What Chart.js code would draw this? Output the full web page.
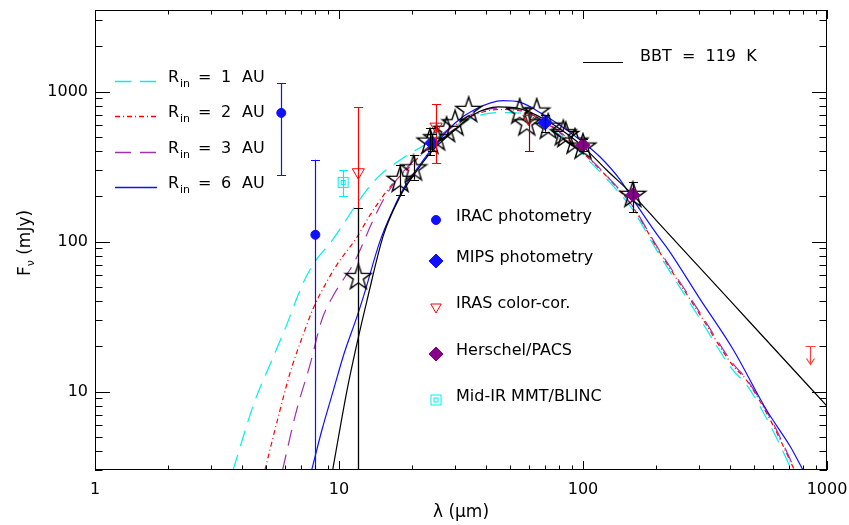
<!DOCTYPE html>
<html>
<head>
<meta charset="utf-8">
<script src="https://cdn.jsdelivr.net/npm/chart.js@4.4.1/dist/chart.umd.min.js"></script>
<style>
  html, body { margin: 0; padding: 0; background: #fff; }
</style>
</head>
<body>
<canvas id="sedChart" width="849" height="525"></canvas>
<script>
// --- Axis ticks ---
const X_TICKS = [1, 10, 100, 1000];
const Y_TICKS = [10, 100, 1000];

// --- Model SEDs (lambda in micron, flux in mJy) ---
const rin1Lam  = [3.68, 4.5, 5.2, 6.0, 7.1, 7.9, 9.3, 10.4, 12, 14.3, 17.8, 24, 30, 36, 45, 55, 70, 85, 100, 125, 160, 200, 300, 410, 470, 600, 716];
const rin1Flux = [3, 8.5, 15, 26, 52, 72, 100, 130, 185, 265, 350, 470, 590, 680, 725, 720, 600, 480, 378, 262, 163, 88, 31, 14, 11, 5.5, 3];

const rin2Lam  = [4.97, 5.6, 6.3, 7.2, 7.85, 8.8, 9.8, 10.5, 11.8, 13.4, 16.2, 19.5, 24, 30, 36, 45, 55, 70, 85, 100, 125, 160, 200, 300, 410, 470, 600, 735];
const rin2Flux = [3, 6.5, 13.3, 25, 36, 52, 70, 82, 106, 150, 232, 316, 450, 600, 700, 760, 745, 620, 495, 390, 272, 170, 92, 33, 15, 11.8, 6, 3];

const rin3Lam  = [5.87, 6.7, 7.6, 8.5, 9.5, 10.5, 11.4, 12.5, 13.6, 15.2, 17.2, 20, 24, 30, 36, 45, 55, 70, 85, 100, 125, 160, 200, 300, 410, 470, 600, 740];
const rin3Flux = [3, 7.5, 15, 30, 44, 57, 70, 96, 132, 190, 258, 340, 450, 610, 720, 775, 755, 630, 500, 395, 275, 172, 94, 34, 15.5, 12, 6.2, 3];

const rin6Lam  = [7.73, 8.5, 9.5, 10.5, 11.85, 12.7, 14.7, 16.7, 18.5, 21, 24.4, 30, 36, 47, 55, 69, 85, 100, 117, 142, 160, 200, 224, 300, 413, 566, 707, 797];
const rin6Flux = [3, 5.5, 10.3, 18, 31.6, 45, 100, 165, 230, 310, 430, 620, 760, 870, 850, 700, 560, 460, 369, 258, 192, 113, 88, 42, 19, 7.5, 4.3, 3];

const bbLam  = [9.42, 10.8, 12.2, 13, 15.2, 17.8, 20, 24, 30, 35.5, 45, 55, 70, 85, 100, 125, 160, 200, 250, 400, 566, 1000];
const bbFlux = [3, 10.3, 25.8, 40, 110, 200, 270, 400, 560, 700, 790, 770, 650, 530, 430, 300, 205, 138, 93, 40.5, 21.9, 8];

// --- Photometry ---
const iracLam  = [5.8, 8.0];
const iracFlux = [721, 111];
const iracLo   = [278, 1];
const iracHi   = [1143, 351];

const mipsLam  = [24, 70];
const mipsFlux = [455, 618];
const mipsLo   = [400, 540];
const mipsHi   = [520, 700];

const irasLam  = [12, 25, 60];
const irasFlux = [290, 584, 658];
const irasLo   = [1, 333, 400];
const irasHi   = [790, 827, 794];

const pacsLam  = [100, 160];
const pacsFlux = [441, 205];
const pacsLo   = [400, 157];
const pacsHi   = [480, 249];

const mmtLam  = [10.4];
const mmtFlux = [248];
const mmtLo   = [200];
const mmtHi   = [300];

// open stars (spectrum / synthetic photometry)
const starLam  = [12, 17.8, 20.2, 23.6, 25.1, 27.6, 29.9, 34, 55, 58.8, 64.6, 72, 83, 85, 92.7, 100, 160];
const starFlux = [58, 258, 308, 464, 489, 556, 615, 755, 736, 615, 736, 584, 528, 514, 464, 430, 205];
const starErrLam = [12, 17.8, 20.2, 23.6];
const starErrLo  = [1, 205, 258, 378];
const starErrHi  = [168, 325, 378, 570];

// upper limit
const limitLam  = [850];
const limitFlux = [20];

// --- Colours ---
const CYAN = '#00eeee';
const RED = '#ff0000';
const PURPLE = '#a030b0';
const BLUE = '#1010ff';
const PACS_PURPLE = '#880088';
const FONT = 'DejaVu Sans';
const MODEL_WIDTH = 1.2;

const pts = (lam, flux) => lam.map((l, i) => ({ x: l, y: flux[i] }));

// --- Custom point images ---
function makeStar() {
    const c = document.createElement('canvas');
    c.width = 30; c.height = 30;
    const g = c.getContext('2d');
    g.strokeStyle = '#000'; g.lineWidth = 1.4;
    g.lineJoin = 'miter';
    g.beginPath();
    for (let k = 0; k < 10; k++) {
        const a = -Math.PI / 2 + k * Math.PI / 5;
        const r = k % 2 === 0 ? 13.5 : 5.3;
        const px = 15 + r * Math.cos(a), py = 15.5 + r * Math.sin(a);
        if (k === 0) g.moveTo(px, py); else g.lineTo(px, py);
    }
    g.closePath();
    g.stroke();
    return c;
}
function makeDoubleSquare() {
    const c = document.createElement('canvas');
    c.width = 13; c.height = 13;
    const g = c.getContext('2d');
    g.strokeStyle = CYAN; g.lineWidth = 1;
    g.strokeRect(1.5, 1.5, 10, 10);
    g.strokeRect(4.5, 4.5, 4, 4);
    return c;
}
const STAR_IMG = makeStar();
const SQUARE_IMG = makeDoubleSquare();

// --- Plugins ---
const insideTicks = {
    id: 'insideTicks',
    afterDraw(chart) {
        const { ctx, chartArea: a, scales: { x, y } } = chart;
        ctx.save();
        ctx.strokeStyle = '#000';
        ctx.lineWidth = 1;
        ctx.strokeRect(a.left + 0.5, a.top + 0.5, a.right - a.left - 1, a.bottom - a.top - 1);
        ctx.beginPath();
        for (let d = 1; d <= 1000; d *= 10) {
            for (let m = 1; m <= 9; m++) {
                const v = m * d;
                if (v > 1000) break;
                const len = m === 1 ? 9 : 4.5;
                const px = Math.round(x.getPixelForValue(v)) + 0.5;
                ctx.moveTo(px, a.bottom); ctx.lineTo(px, a.bottom - len);
                ctx.moveTo(px, a.top); ctx.lineTo(px, a.top + len);
            }
        }
        for (let d = 1; d <= 1000; d *= 10) {
            for (let m = 1; m <= 9; m++) {
                const v = m * d;
                if (v < 3 || v > 3500) continue;
                const len = m === 1 ? 15 : 7.5;
                const py = Math.round(y.getPixelForValue(v)) + 0.5;
                ctx.moveTo(a.left, py); ctx.lineTo(a.left + len, py);
                ctx.moveTo(a.right, py); ctx.lineTo(a.right - len, py);
            }
        }
        ctx.stroke();
        ctx.restore();
    }
};

function drawBars(chart, lam, lo, hi, colors) {
    const { ctx, chartArea: a, scales: { x, y } } = chart;
    lam.forEach((l, i) => {
        const px = Math.round(x.getPixelForValue(l)) + 0.5;
        const yLo = y.getPixelForValue(lo[i]);
        const yHi = y.getPixelForValue(hi[i]);
        ctx.strokeStyle = Array.isArray(colors) ? colors[i] : colors;
        ctx.beginPath();
        ctx.moveTo(px, Math.min(yLo, a.bottom));
        ctx.lineTo(px, Math.max(yHi, a.top));
        [yLo, yHi].forEach(yy => {
            if (yy >= a.top && yy <= a.bottom) {
                const r = Math.round(yy) + 0.5;
                ctx.moveTo(px - 4.5, r); ctx.lineTo(px + 4.5, r);
            }
        });
        ctx.stroke();
    });
}

const errorBars = {
    id: 'errorBars',
    afterDatasetsDraw(chart) {
        const { ctx, scales: { x, y } } = chart;
        ctx.save();
        ctx.lineWidth = 1.2;
        drawBars(chart, irasLam, irasLo, irasHi, [RED, RED, '#7a0a0a']);
        drawBars(chart, iracLam, iracLo, iracHi, BLUE);
        drawBars(chart, mmtLam, mmtLo, mmtHi, CYAN);
        drawBars(chart, mipsLam, mipsLo, mipsHi, '#000');
        drawBars(chart, pacsLam, pacsLo, pacsHi, '#000');
        drawBars(chart, starErrLam, starErrLo, starErrHi, '#000');
        // upper limit arrow
        ctx.strokeStyle = '#ff4040';
        limitLam.forEach((l, i) => {
            const px = Math.round(x.getPixelForValue(l)) + 0.5;
            const py = Math.round(y.getPixelForValue(limitFlux[i])) + 0.5;
            ctx.beginPath();
            ctx.moveTo(px - 5, py); ctx.lineTo(px + 5, py);
            ctx.moveTo(px, py); ctx.lineTo(px, py + 18);
            ctx.moveTo(px - 4, py + 12); ctx.lineTo(px, py + 18); ctx.lineTo(px + 4, py + 12);
            ctx.stroke();
        });
        ctx.restore();
    }
};

const MODEL_LEGEND = [
    { label: '1', color: CYAN, dash: [16, 9], y: 81 },
    { label: '2', color: RED, dash: [5, 3, 1, 3], y: 116 },
    { label: '3', color: PURPLE, dash: [16, 9], y: 152 },
    { label: '6', color: BLUE, dash: [], y: 187 }
];
const SYMBOL_LEGEND = [
    { label: 'IRAC photometry', y: 220, style: 'circle', radius: 4.5, fill: BLUE, stroke: BLUE },
    { label: 'MIPS photometry', y: 261, style: 'rectRot', radius: 7, fill: BLUE, stroke: BLUE },
    { label: 'IRAS color-cor.', y: 307, style: 'triangle', radius: 6, rotation: 180, fill: 'rgba(0,0,0,0)', stroke: RED },
    { label: 'Herschel/PACS', y: 354, style: 'rectRot', radius: 7, fill: PACS_PURPLE, stroke: PACS_PURPLE },
    { label: 'Mid-IR MMT/BLINC', y: 400, style: SQUARE_IMG, radius: 5 }
];

const annotations = {
    id: 'annotations',
    afterDraw(chart) {
        const ctx = chart.ctx;
        ctx.save();
        ctx.fillStyle = '#000';
        ctx.textBaseline = 'middle';
        // model legend
        MODEL_LEGEND.forEach(row => {
            ctx.strokeStyle = row.color;
            ctx.lineWidth = 1.4;
            ctx.setLineDash(row.dash);
            ctx.beginPath();
            ctx.moveTo(115, row.y + 0.5); ctx.lineTo(157, row.y + 0.5);
            ctx.stroke();
            ctx.setLineDash([]);
            const ty = row.y - 3;
            ctx.font = `16px "${FONT}"`;
            ctx.fillText('R', 168, ty);
            ctx.font = `11px "${FONT}"`;
            ctx.fillText('in', 180, ty + 6);
            ctx.font = `16px "${FONT}"`;
            ctx.fillText('=', 198, ty);
            ctx.fillText(row.label, 221, ty);
            ctx.fillText('AU', 242, ty);
        });
        // symbol legend
        SYMBOL_LEGEND.forEach(row => {
            ctx.fillStyle = row.fill || '#000';
            ctx.strokeStyle = row.stroke || '#000';
            ctx.lineWidth = 1;
            Chart.helpers.drawPoint(ctx, { pointStyle: row.style, radius: row.radius, rotation: row.rotation || 0, borderWidth: 1 }, 436, row.y);
            ctx.fillStyle = '#000';
            ctx.font = `16px "${FONT}"`;
            ctx.fillText(row.label, 456, row.y - 3);
        });
        // BB legend
        ctx.strokeStyle = '#000';
        ctx.lineWidth = 1.2;
        ctx.beginPath();
        ctx.moveTo(583, 62.5); ctx.lineTo(623, 62.5);
        ctx.stroke();
        ctx.fillText('BBT  =  119  K', 640, 57);
        // axis titles
        ctx.textAlign = 'center';
        ctx.font = `17px "${FONT}"`;
        ctx.fillText('\u03bb (\u03bcm)', 461, 513);
        ctx.translate(26, 243);
        ctx.rotate(-Math.PI / 2);
        ctx.textAlign = 'left';
        const wF = ctx.measureText('F').width;
        ctx.font = `11px "${FONT}"`;
        const wNu = ctx.measureText('\u03bd').width;
        ctx.font = `17px "${FONT}"`;
        const wRest = ctx.measureText(' (mJy)').width;
        let cx = -(wF + wNu + wRest) / 2;
        ctx.fillText('F', cx, 0); cx += wF;
        ctx.font = `11px "${FONT}"`;
        ctx.fillText('\u03bd', cx, 5); cx += wNu;
        ctx.font = `17px "${FONT}"`;
        ctx.fillText(' (mJy)', cx, 0);
        ctx.restore();
    }
};

// --- Datasets ---
function curve(lam, flux, color, dash) {
    return {
        data: pts(lam, flux), showLine: true, borderColor: color, borderWidth: MODEL_WIDTH,
        borderDash: dash, pointRadius: 0, cubicInterpolationMode: 'monotone', order: 3
    };
}

const datasets = [
    { data: pts(iracLam, iracFlux), pointStyle: 'circle', pointRadius: 4.5, backgroundColor: BLUE, borderColor: BLUE, order: 0 },
    { data: pts(mipsLam, mipsFlux), pointStyle: 'rectRot', pointRadius: 7, backgroundColor: BLUE, borderColor: BLUE, order: 0 },
    { data: pts(pacsLam, pacsFlux), pointStyle: 'rectRot', pointRadius: 7, backgroundColor: PACS_PURPLE, borderColor: PACS_PURPLE, order: 0 },
    { data: pts(irasLam, irasFlux), pointStyle: 'triangle', pointRotation: 180, pointRadius: 7, backgroundColor: 'rgba(0,0,0,0)', borderColor: RED, borderWidth: 1, order: 0 },
    { data: pts(mmtLam, mmtFlux), pointStyle: SQUARE_IMG, pointRadius: 5, order: 0 },
    { data: pts(starLam, starFlux), pointStyle: STAR_IMG, pointRadius: 5, order: 1 },
    curve(bbLam, bbFlux, '#000', []),
    curve(rin6Lam, rin6Flux, BLUE, []),
    curve(rin3Lam, rin3Flux, PURPLE, [16, 9]),
    curve(rin2Lam, rin2Flux, RED, [5, 3, 1, 3]),
    curve(rin1Lam, rin1Flux, CYAN, [16, 9])
];

new Chart(document.getElementById('sedChart'), {
    type: 'scatter',
    data: { datasets },
    options: {
        responsive: false,
        animation: false,
        devicePixelRatio: 1,
        layout: { padding: { top: 10, right: 22, left: 0, bottom: 0 } },
        plugins: { legend: { display: false }, tooltip: { enabled: false } },
        scales: {
            x: {
                type: 'logarithmic', min: 1, max: 1000,
                grid: { display: false, drawTicks: false }, border: { display: false },
                ticks: { color: '#000', font: { family: FONT, size: 16 }, padding: 10, maxRotation: 0, callback: v => String(v) },
                afterBuildTicks: s => { s.ticks = X_TICKS.map(v => ({ value: v })); },
                afterFit: s => { s.height = 55; s.paddingLeft = 0; s.paddingRight = 0; }
            },
            y: {
                type: 'logarithmic', min: 3, max: 3500,
                grid: { display: false, drawTicks: false }, border: { display: false },
                ticks: { color: '#000', font: { family: FONT, size: 16 }, padding: 7, callback: v => String(v) },
                afterBuildTicks: s => { s.ticks = Y_TICKS.map(v => ({ value: v })); },
                afterFit: s => { s.width = 95; s.paddingTop = 0; s.paddingBottom = 0; }
            }
        }
    },
    plugins: [errorBars, insideTicks, annotations]
});
</script>
</body>
</html>
